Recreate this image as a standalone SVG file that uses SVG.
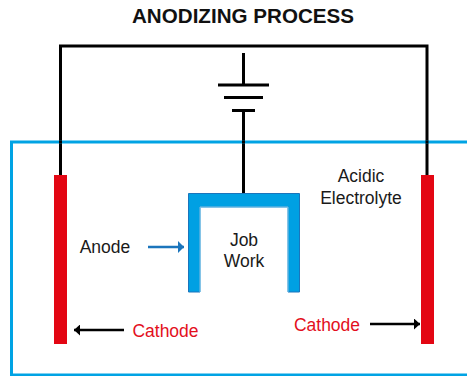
<svg xmlns="http://www.w3.org/2000/svg" width="467" height="376" viewBox="0 0 467 376">
<defs>
<marker id="ah" markerUnits="userSpaceOnUse" markerWidth="7" markerHeight="11" refX="6" refY="5.500" orient="auto"><path d="M0 0L6 5.500L0 11Z" fill="#000"/></marker>
<marker id="ab" markerUnits="userSpaceOnUse" markerWidth="7" markerHeight="12" refX="6" refY="6" orient="auto"><path d="M0 0L6 6L0 12Z" fill="#1b75bc"/></marker>
</defs>
<style>
text{font-family:"Liberation Sans",Arial,sans-serif;font-size:17.500px;fill:#1a1a1a;text-anchor:middle}
.r{fill:#e30f1c}
.w{fill:none;stroke:#000;stroke-width:3}
.el{fill:#e30613}
</style>
<rect width="467" height="376" fill="#fff"/>
<g id="title"><text x="243" y="23" style="font-weight:bold;font-size:20.600px;fill:#111">ANODIZING PROCESS</text></g>
<g id="connectors">
<path class="w" d="M60.500 175V46H427V175"/>
<path class="w" d="M243.500 53V85M243.500 110V193"/>
<path d="M124 330H74" fill="none" stroke="#000" stroke-width="2.500" marker-end="url(#ah)"/>
<path d="M370 324H420" fill="none" stroke="#000" stroke-width="2.500" marker-end="url(#ah)"/>
<path d="M148 247H184" fill="none" stroke="#1b75bc" stroke-width="2.500" marker-end="url(#ab)"/>
</g>
<g id="battery">
<path d="M218 85H269M224 97.500H263M232 110.500H255" fill="none" stroke="#000" stroke-width="3"/>
</g>
<g id="tank"><path d="M467 142H11.500V375H467" fill="none" stroke="#00a3e4" stroke-width="3"/>
<path d="M243.500 140.500V143.500M60.500 140.500V143.500M427 140.500V143.500" stroke="#000" stroke-width="3"/></g>
<g id="anode-electrode"><rect class="el" x="54" y="175" width="13" height="169"/></g>
<g id="cathode-electrode"><rect class="el" x="421" y="175" width="13" height="169"/></g>
<g id="job-work">
<path d="M188.500 292V193.500H299.500V292H288V207H200V292Z" fill="#00a0e3" stroke="#1b75bc" stroke-width="1"/>
<path d="M200 292V207H288V292" fill="none" stroke="#7fcff1" stroke-width="1"/>
<text x="244" y="246">Job</text><text x="244" y="267">Work</text>
</g>
<g id="anode-label"><text x="105" y="253">Anode</text></g>
<g id="electrolyte-label"><text x="361" y="182">Acidic</text><text x="361" y="204">Electrolyte</text></g>
<g id="cathode-left"><text class="r" x="165.500" y="337">Cathode</text></g>
<g id="cathode-right"><text class="r" x="327" y="331">Cathode</text></g>
</svg>
